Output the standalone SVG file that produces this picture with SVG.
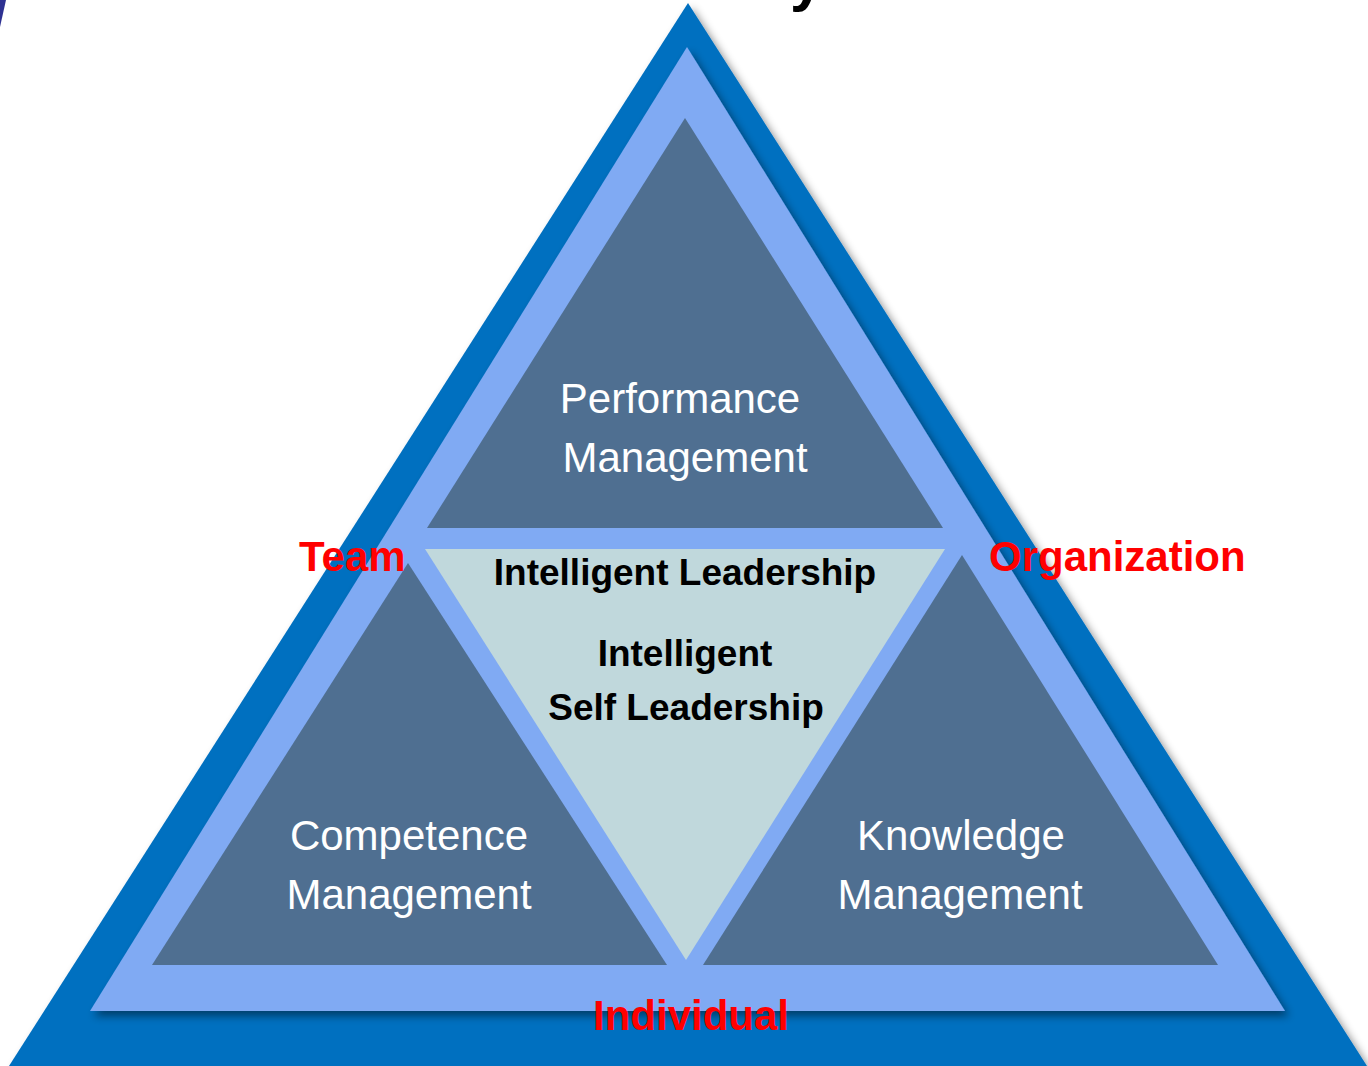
<svg xmlns="http://www.w3.org/2000/svg" width="1368" height="1066" viewBox="0 0 1368 1066">
  <defs>
    <filter id="sh" x="-10%" y="-10%" width="130%" height="130%">
      <feDropShadow dx="4" dy="5" stdDeviation="4" flood-color="#000" flood-opacity="0.45"/>
    </filter>
  </defs>
  <style>
    .outer{fill:#0070C0}
    .band{fill:#80AAF3}
    .dark{fill:#4F6F91}
    .core{fill:#C0D8DC}
    .w{font-family:"Liberation Sans",Arial,sans-serif;font-size:42px;fill:#fff;text-anchor:middle}
    .b{font-family:"Liberation Sans",Arial,sans-serif;font-size:37px;font-weight:bold;fill:#000;text-anchor:middle}
    .r{font-family:"Liberation Sans",Arial,sans-serif;font-size:42px;font-weight:bold;fill:#FF0000}
  </style>
  <rect width="1368" height="1066" fill="#fff"/>
  <polygon points="0,0 6,0 0,27" fill="#2E3192"/>
  <text x="790" y="0" font-family="Liberation Sans, Arial, sans-serif" font-size="60" font-weight="bold" fill="#000">y</text>

  <g id="outer-triangle">
    <polygon class="outer" points="688,3 1367,1066 9,1066" filter="url(#sh)"/>
  </g>
  <g id="band-triangle">
    <polygon class="band" points="687,47 1285,1011 90,1011" filter="url(#sh)"/>
  </g>
  <g id="performance">
    <polygon class="dark" points="685,118 943,528 427,528"/>
    <text class="w" x="680" y="413">Performance</text>
    <text class="w" x="685" y="472">Management</text>
  </g>
  <g id="competence">
    <polygon class="dark" points="408,563 667,965 152,965"/>
    <text class="w" x="409" y="850">Competence</text>
    <text class="w" x="409" y="909">Management</text>
  </g>
  <g id="knowledge">
    <polygon class="dark" points="962,555 1218,965 703,965"/>
    <text class="w" x="961" y="850">Knowledge</text>
    <text class="w" x="960" y="909">Management</text>
  </g>
  <g id="leadership">
    <polygon class="core" points="425,549 945,549 686,960"/>
    <text class="b" x="685" y="585">Intelligent Leadership</text>
    <text class="b" x="685" y="666">Intelligent</text>
    <text class="b" x="686" y="720">Self Leadership</text>
  </g>
  <g id="labels">
    <text class="r" x="299" y="571">Team</text>
    <text class="r" x="989" y="571">Organization</text>
    <text class="r" x="593" y="1030">Individual</text>
  </g>
  <g id="connectors"></g>
</svg>
